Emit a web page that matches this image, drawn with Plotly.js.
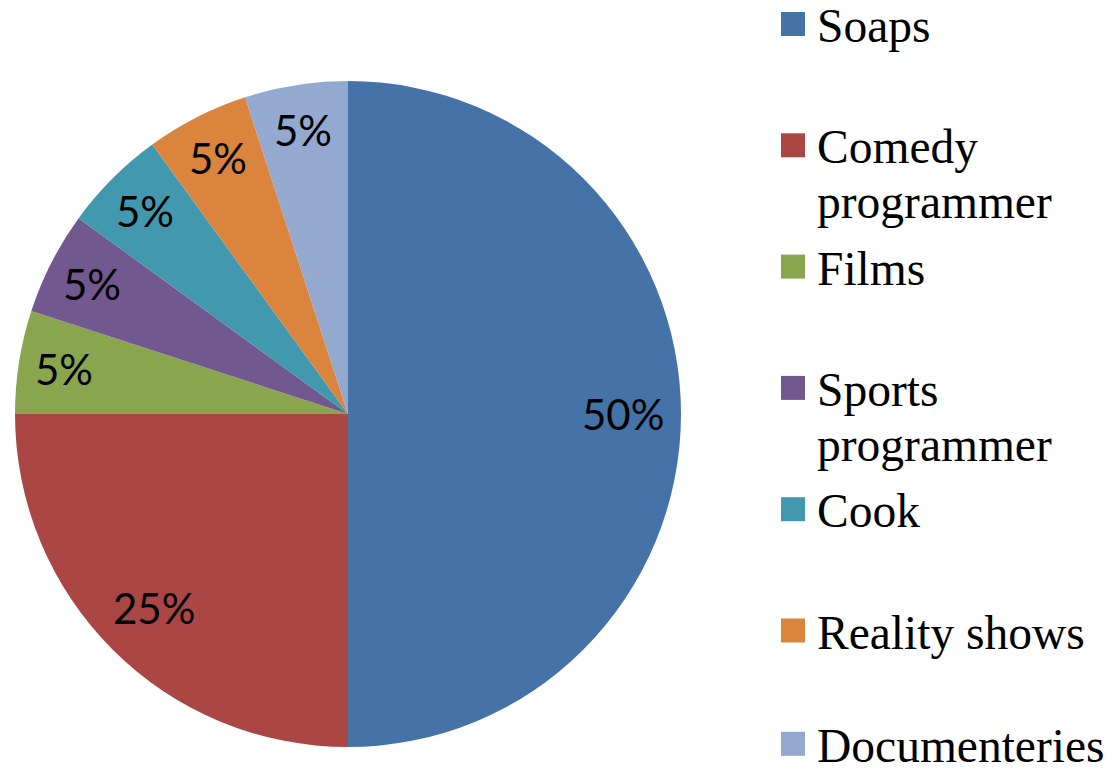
<!DOCTYPE html>
<html>
<head>
<meta charset="utf-8">
<script src="https://cdn.plot.ly/plotly-3.0.1.min.js"></script>
<style>html,body{margin:0;padding:0;background:#fff;}#chart{width:1112px;height:771px;}</style>
</head>
<body>
<div id="chart"></div>
<script>
// ---- data ----
const categories = ["Soaps", "Comedy programmer", "Films", "Sports programmer", "Cook", "Reality shows", "Documenteries"];
const legendText = ["Soaps", "Comedy<br>programmer", "Films", "Sports<br>programmer", "Cook", "Reality shows", "Documenteries"];
const shares = [50, 25, 5, 5, 5, 5, 5];
const sliceLabels = ["50%", "25%", "5%", "5%", "5%", "5%", "5%"];
const colors = ["#4572A7", "#AA4643", "#89A54E", "#71588F", "#4198AF", "#DB843D", "#93A9CF"];

// ---- layout geometry ----
const W = 1112, H = 771;
const cx = 348, cy = 414, R = 333;
const px = x => x / W;
const py = y => 1 - y / H;

const trace = {
  type: "pie",
  labels: categories,
  values: shares,
  sort: false,
  direction: "clockwise",
  rotation: 0,
  textinfo: "none",
  hoverinfo: "label+percent",
  showlegend: false,
  marker: { colors: colors, line: { width: 0 } },
  domain: { x: [px(cx - R), px(cx + R)], y: [py(cy + R), py(cy - R)] }
};

const annotations = [];
const shapes = [];
const total = shares.reduce((a, b) => a + b, 0);
let cum = 0;
shares.forEach((v, i) => {
  const mid = (cum + v / 2) / total * 2 * Math.PI;
  cum += v;
  const f = v / total >= 0.25 ? 0.826 : 0.862;
  const x = cx + f * R * Math.sin(mid);
  const y = cy - f * R * Math.cos(mid);
  annotations.push({
    x: px(x), y: py(y), xref: "paper", yref: "paper",
    xanchor: "center", yanchor: "middle", showarrow: false,
    text: sliceLabels[i],
    font: { family: "Lato, sans-serif", size: 42, color: "#000" }
  });
});

// custom legend
const rowStep = 121.3, sq = 24, lineGap = 55, fs = 47.5;
legendText.forEach((t, i) => {
  let c = 24 + rowStep * i;
  if (i === legendText.length - 1) c -= 8; // keep last label inside the canvas
  shapes.push({
    type: "rect", xref: "paper", yref: "paper",
    x0: px(781), x1: px(781 + sq), y0: py(c + sq / 2), y1: py(c - sq / 2),
    fillcolor: colors[i], line: { width: 0 }
  });
  t.split("<br>").forEach((line, k) => {
    annotations.push({
      x: px(815), y: py(c + 2 + k * lineGap), xref: "paper", yref: "paper",
      xanchor: "left", yanchor: "middle", showarrow: false,
      text: line,
      font: { family: "'Liberation Serif', 'Times New Roman', serif", size: fs, color: "#000" }
    });
  });
});

const layout = {
  width: W, height: H,
  margin: { l: 0, r: 0, t: 0, b: 0 },
  paper_bgcolor: "#fff",
  plot_bgcolor: "#fff",
  showlegend: false,
  annotations: annotations,
  shapes: shapes
};

Plotly.newPlot("chart", [trace], layout, { displayModeBar: false, staticPlot: true });
</script>
</body>
</html>
